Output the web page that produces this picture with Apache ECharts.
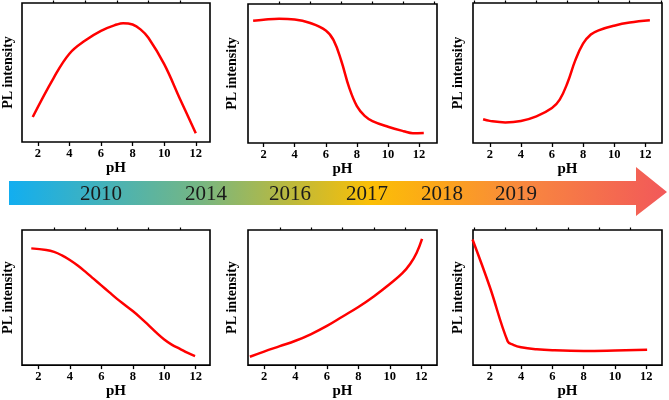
<!DOCTYPE html>
<html><head><meta charset="utf-8">
<script src="https://cdn.jsdelivr.net/npm/echarts@6/dist/echarts.min.js"></script>
<style>html,body{margin:0;padding:0;background:#fff}#c{width:669px;height:400px}</style>
</head><body><div id="c"></div>
<script>
// ---- data ----
const xLabelValues = [2, 4, 6, 8, 10, 12];
const xMinorValues = [1, 3, 5, 7, 9, 11, 13];
const years = ['2010', '2014', '2016', '2017', '2018', '2019'];
const xName = 'pH';
const yName = 'PL intensity';

// top-left: rise then fall
const phA = [1.68, 3, 4, 5, 6, 7, 7.4, 8, 8.5, 9, 10, 11, 12];
const plA = [0.18, 0.46, 0.635, 0.73, 0.80, 0.845, 0.855, 0.845, 0.81, 0.75, 0.56, 0.31, 0.063];
// top-middle: high then drop
const phB = [1.33, 2, 3, 4, 5, 6, 6.5, 7, 7.5, 8, 8.5, 9, 10, 11, 11.6, 12.3];
const plB = [0.88, 0.887, 0.894, 0.889, 0.863, 0.81, 0.74, 0.59, 0.40, 0.265, 0.195, 0.158, 0.117, 0.085, 0.07, 0.072];
// top-right: low then rise
const phC = [1.57, 2, 3, 4, 5, 6, 6.5, 7, 7.5, 8, 8.5, 9, 10, 11, 12.3];
const plC = [0.17, 0.158, 0.147, 0.157, 0.19, 0.25, 0.31, 0.43, 0.59, 0.71, 0.775, 0.805, 0.838, 0.86, 0.876];
// bottom-left: gradual decrease
const phD = [1.55, 2.5, 3, 3.5, 4, 4.5, 5, 5.5, 6, 6.5, 7, 7.5, 8, 8.5, 9, 9.5, 10, 10.5, 11, 11.5, 11.96];
const plD = [0.864, 0.852, 0.838, 0.812, 0.778, 0.737, 0.69, 0.64, 0.59, 0.54, 0.49, 0.445, 0.40, 0.35, 0.296, 0.24, 0.19, 0.15, 0.12, 0.09, 0.067];
// bottom-middle: gradual increase
const phE = [1.1, 2, 3, 4, 5, 6, 7, 8, 9, 10, 10.8, 11.3, 11.7, 12.05];
const plE = [0.062, 0.10, 0.14, 0.18, 0.23, 0.29, 0.36, 0.43, 0.51, 0.60, 0.68, 0.75, 0.83, 0.935];
// bottom-right: sharp drop then flat
const phF = [0.9, 2, 3.15, 3.5, 4, 5, 6, 8, 10, 12.05];
const plF = [0.93, 0.58, 0.175, 0.15, 0.132, 0.117, 0.11, 0.105, 0.108, 0.113];

// ---- layout ----
const panels = [
  { ph: phA, pl: plA, grid: { left: 22, top: 3, width: 188, height: 139 }, xmin: 1.0, xmax: 12.9, gap: 7 },
  { ph: phB, pl: plB, grid: { left: 248, top: 4, width: 189, height: 139 }, xmin: 1.0, xmax: 13.15, gap: 9 },
  { ph: phC, pl: plC, grid: { left: 473, top: 3, width: 189, height: 140 }, xmin: 0.92, xmax: 13.08, gap: 8 },
  { ph: phD, pl: plD, grid: { left: 22, top: 230, width: 188, height: 139 }, xmin: 0.96, xmax: 12.91, gap: 7 },
  { ph: phE, pl: plE, grid: { left: 248, top: 230, width: 189, height: 139 }, xmin: 0.98, xmax: 13.0, gap: 9 },
  { ph: phF, pl: plF, grid: { left: 473, top: 230, width: 189, height: 139 }, xmin: 0.93, xmax: 13.0, gap: 8 }
];
const yearX = [101, 206, 290, 367, 442, 516];

const serif = '"Liberation Serif", "Times New Roman", serif';
const grids = [], xAxes = [], yAxes = [], series = [];
panels.forEach((p, i) => {
  grids.push(Object.assign({ show: true, borderColor: '#000', borderWidth: 1.6, backgroundColor: 'transparent' }, p.grid));
  xAxes.push({
    type: 'value', gridIndex: i, min: p.xmin, max: p.xmax,
    name: xName, nameLocation: 'middle', nameGap: 15,
    nameTextStyle: { fontFamily: serif, fontWeight: 'bold', fontSize: 15, color: '#000' },
    axisLine: { show: false },
    splitLine: { show: false },
    axisTick: { show: true, customValues: xLabelValues, length: 4, lineStyle: { color: '#000', width: 1.3 } },
    axisLabel: { show: true, customValues: xLabelValues, margin: 5, fontFamily: serif, fontWeight: 'bold', fontSize: 12.5, color: '#000' }
  });
  xAxes.push({
    type: 'value', gridIndex: i, min: p.xmin, max: p.xmax,
    axisLine: { show: false }, splitLine: { show: false },
    axisTick: { show: true, customValues: xMinorValues.filter(v => v > p.xmin + 0.05 && v < p.xmax - 0.05), length: 2.5, lineStyle: { color: '#000', width: 1.2 } },
    axisLabel: { show: false }
  });
  yAxes.push({
    type: 'value', gridIndex: i, min: 0, max: 1,
    name: yName, nameLocation: 'middle', nameGap: p.gap, nameRotate: 90,
    nameTextStyle: { fontFamily: serif, fontWeight: 'bold', fontSize: 14, color: '#000' },
    axisLine: { show: false }, axisTick: { show: false }, axisLabel: { show: false }, splitLine: { show: false }
  });
  series.push({
    type: 'line', xAxisIndex: 2 * i, yAxisIndex: i,
    data: p.ph.map((x, k) => [x, p.pl[k]]),
    showSymbol: false, smooth: 0.4,
    lineStyle: { color: '#ff0000', width: 2.5 }, silent: true
  });
});

const graphic = [{
  type: 'polygon', silent: true,
  shape: { points: [[9, 181], [636, 181], [636, 167], [667, 192], [636, 216], [636, 205], [9, 205]] },
  style: {
    fill: new echarts.graphic.LinearGradient(0, 0, 1, 0, [
      { offset: 0, color: '#12aef0' },
      { offset: 0.29, color: '#76b683' },
      { offset: 0.43, color: '#bdb93b' },
      { offset: 0.55, color: '#fbbf06' },
      { offset: 0.66, color: '#fca41c' },
      { offset: 0.78, color: '#f8883e' },
      { offset: 1, color: '#f2585a' }
    ])
  }
}];
years.forEach((y, k) => {
  graphic.push({
    type: 'text', silent: true, x: yearX[k], y: 194,
    style: { text: y, font: '21px ' + serif, fill: '#1a1a1a', align: 'center', verticalAlign: 'middle' }
  });
});

const chart = echarts.init(document.getElementById('c'), null, { renderer: 'canvas' });
chart.setOption({
  animation: false,
  backgroundColor: '#fff',
  grid: grids, xAxis: xAxes, yAxis: yAxes, series: series, graphic: graphic
});
</script></body></html>
